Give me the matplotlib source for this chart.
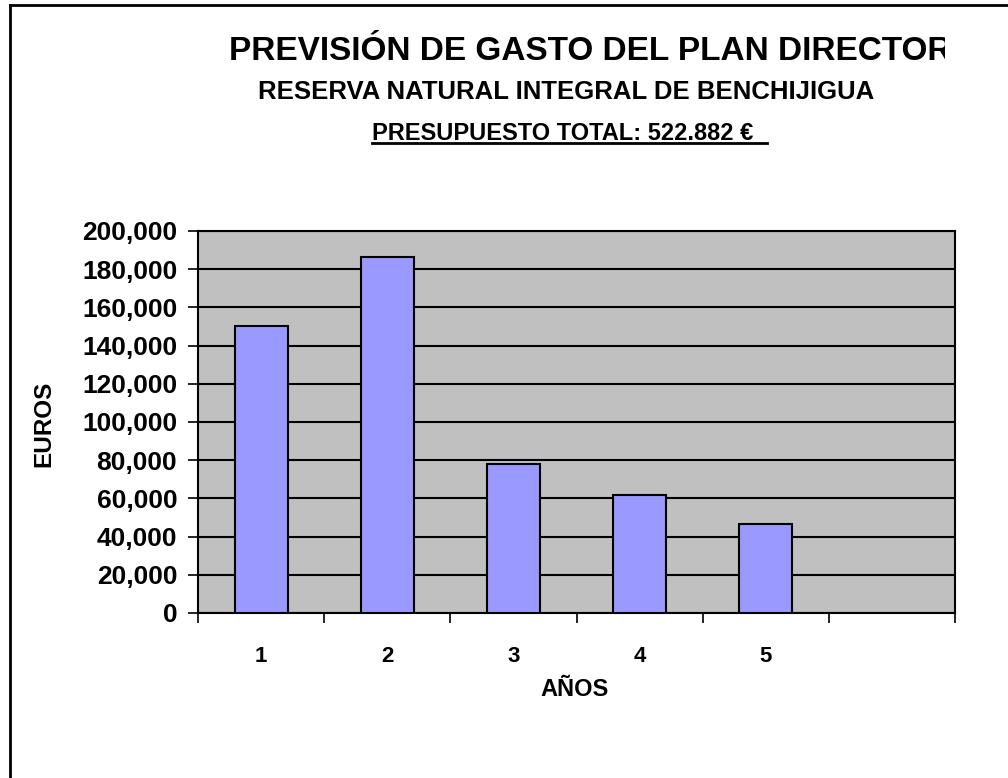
import matplotlib
matplotlib.use("Agg")
import matplotlib.pyplot as plt
from matplotlib.patches import Rectangle
from matplotlib.ticker import FuncFormatter

# Data
YEARS = ["1", "2", "3", "4", "5"]
SPEND = [150000, 186500, 77800, 62000, 46600]
N_SLOTS = 6  # the category axis has one empty slot after year 5

TITLE = "PREVISIÓN DE GASTO DEL PLAN DIRECTOR"
SUBTITLE = "RESERVA NATURAL INTEGRAL DE BENCHIJIGUA"
BUDGET = "PRESUPUESTO TOTAL: 522.882 €  "
Y_LABEL = "EUROS"
X_LABEL = "AÑOS"

BAR_COLOR = "#9999FF"
PLOT_BG = "#C0C0C0"

plt.rcParams["font.family"] = ["Liberation Sans", "DejaVu Sans"]
plt.rcParams["font.weight"] = "bold"

W, H = 1008, 778


def main():
    fig = plt.figure(figsize=(W / 100, H / 100), dpi=100)

    # frame around the chart area (only left and top edges are visible)
    fig.add_artist(plt.Line2D([10 / W, 10 / W], [0, 1 - 5 / H],
                              transform=fig.transFigure, color="black", lw=2))
    fig.add_artist(plt.Line2D([10 / W, 1], [1 - 5 / H, 1 - 5 / H],
                              transform=fig.transFigure, color="black", lw=2))

    ax = fig.add_axes([198 / W, 1 - 613 / H, 757 / W, 382 / H])
    ax.set_facecolor(PLOT_BG)

    x = list(range(1, len(YEARS) + 1))
    ax.bar(x, SPEND, width=0.42, color=BAR_COLOR, edgecolor="black",
           linewidth=1.5, zorder=3)

    ax.set_xlim(0.5, N_SLOTS + 0.5)
    ax.set_ylim(0, 200000)
    ax.set_yticks(range(0, 200001, 20000))
    ax.yaxis.set_major_formatter(FuncFormatter(lambda v, p: f"{int(v):,}"))
    ax.yaxis.grid(True, color="black", linewidth=1.5, zorder=1)
    ax.set_axisbelow(True)

    # category boundaries as major ticks, labels at the centres
    ax.set_xticks([i + 0.5 for i in range(N_SLOTS + 1)])
    ax.set_xticklabels([])
    ax.set_xticks(x, minor=True)
    ax.set_xticklabels(YEARS, minor=True)
    ax.tick_params(axis="x", which="major", direction="out", length=7, width=1.2)
    ax.tick_params(axis="x", which="minor", length=0, pad=24, labelsize=16)
    ax.tick_params(axis="y", direction="out", length=7, width=1.2, pad=8,
                   labelsize=19)

    for side in ["left", "right", "top", "bottom"]:
        ax.spines[side].set_linewidth(1.5)
        ax.spines[side].set_color("black")

    ax.set_ylabel(Y_LABEL, fontsize=17.5, fontweight="bold")
    ax.yaxis.set_label_coords(55.5 / W, 1 - 424 / H, transform=fig.transFigure)
    ax.set_xlabel(X_LABEL, fontsize=17, fontweight="bold")
    ax.xaxis.set_label_coords(575 / W, 1 - 690 / H, transform=fig.transFigure)
    ax.xaxis.label.set_va("center")

    # titles
    title = fig.text(229 / W, 1 - 60 / H, TITLE, fontsize=24,
                     fontweight="bold", ha="left", va="baseline")
    clip = Rectangle((0, 0), 945 / W, 1, transform=fig.transFigure)
    title.set_clip_path(clip)
    fig.text(566 / W, 1 - 99 / H, SUBTITLE, fontsize=18.5,
             fontweight="bold", ha="center", va="baseline")
    fig.text(372 / W, 1 - 140 / H, BUDGET, fontsize=17,
             fontweight="bold", ha="left", va="baseline")
    y_ul = 1 - 143 / H
    fig.add_artist(plt.Line2D([372 / W, 767 / W], [y_ul, y_ul],
                              transform=fig.transFigure, color="black", lw=2))

    fig.savefig("out.png", dpi=100)


if __name__ == "__main__":
    main()
